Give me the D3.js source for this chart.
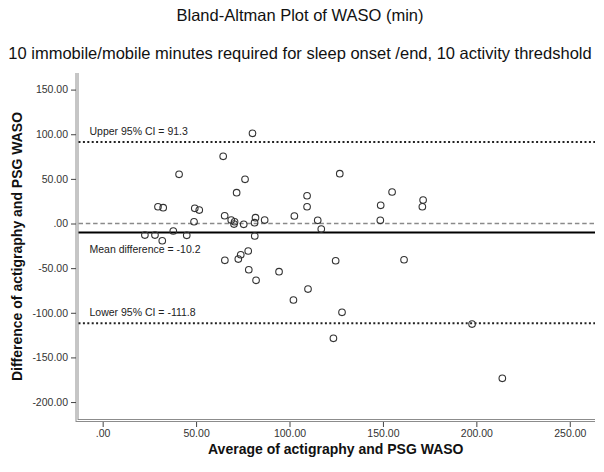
<!DOCTYPE html>
<html>
<head>
<meta charset="utf-8">
<script src="https://cdn.jsdelivr.net/npm/d3@7"></script>
<style>
  html, body { margin: 0; padding: 0; background: #fff; }
  svg { display: block; font-family: Arial, "Liberation Sans", sans-serif; }
</style>
</head>
<body>
<svg id="chart" width="604" height="472"></svg>
<script>
// ---- data ----
const avgValues = [80.2, 64.5, 40.9, 76.2, 71.7, 29.6, 32.4, 49.3, 51.7, 65.3,
                   48.9, 68.8, 70.6, 70.3, 75.5, 81.8, 81.3, 81.4, 22.6, 28.0,
                   31.9, 37.8, 45.0, 65.4, 72.6, 73.9, 77.9, 78.2, 82.1, 102.6,
                   109.4, 109.4, 115.1, 117.0, 126.9, 124.7, 94.4, 109.9, 102.1, 128.1,
                   148.8, 148.6, 154.9, 161.3, 171.5, 171.1, 86.7, 123.5, 197.7, 213.9];
const diffValues = [101.0, 75.3, 55.1, 49.5, 34.5, 18.8, 17.7, 17.0, 15.1, 8.7,
                    2.0, 3.9, 2.0, -0.6, -0.9, 6.5, 0.9, -14.0, -12.9, -12.9,
                    -19.3, -8.4, -13.2, -41.2, -39.8, -35.0, -30.8, -51.8, -63.6, 8.4,
                    31.1, 18.8, 3.6, -6.2, 55.8, -41.7, -54.0, -73.4, -85.7, -99.5,
                    20.4, 3.6, 35.3, -40.6, 26.3, 18.8, 3.9, -128.6, -112.6, -173.4];
const meanDiff = -10.2;
const upperCI = 91.3;
const lowerCI = -111.8;
const xTicks = [0, 50, 100, 150, 200, 250];
const xTickLabels = [".00", "50.00", "100.00", "150.00", "200.00", "250.00"];
const yTicks = [150, 100, 50, 0, -50, -100, -150, -200];
const yTickLabels = ["150.00", "100.00", "50.00", ".00", "-50.00", "-100.00", "-150.00", "-200.00"];
const titleText = "Bland-Altman Plot of WASO (min)";
const subtitleText = "10 immobile/mobile minutes required for sleep onset /end, 10 activity thredshold";
const xTitle = "Average of actigraphy and PSG WASO";
const yTitle = "Difference of actigraphy and PSG WASO";
const upperLabel = "Upper 95% CI = 91.3";
const meanLabel = "Mean difference = -10.2";
const lowerLabel = "Lower 95% CI = -111.8";

// ---- layout ----
const svg = d3.select("#chart");
const pL = 76.5, pR = 595, pT = 73, pB = 420;

const x = d3.scaleLinear().domain([-14.0, 263.5]).range([pL, pR]);
const y = d3.scaleLinear().domain([-220.1, 168.6]).range([pB, pT]);

svg.append("rect").attr("width", 604).attr("height", 472).attr("fill", "#fff");

// titles
svg.append("text").attr("x", 300).attr("y", 20.5).attr("text-anchor", "middle")
  .attr("font-size", "16.5px").attr("fill", "#111").text(titleText);
svg.append("text").attr("x", 300).attr("y", 59).attr("text-anchor", "middle")
  .attr("font-size", "16.5px").attr("fill", "#111").text(subtitleText);

// axis frame lines (double gray)
const frame = svg.append("g").attr("stroke", "#8c8c8c").attr("stroke-width", 1);
frame.append("line").attr("x1", pL - 0.5).attr("x2", pL - 0.5).attr("y1", pT).attr("y2", pB + 2);
frame.append("line").attr("x1", pL + 1.5).attr("x2", pL + 1.5).attr("y1", pT).attr("y2", pB);
frame.append("line").attr("x1", pL - 0.5).attr("x2", pR).attr("y1", pB + 1.5).attr("y2", pB + 1.5);
frame.append("line").attr("x1", pL + 1.5).attr("x2", pR).attr("y1", pB - 0.5).attr("y2", pB - 0.5);

// y axis
const yAxis = d3.axisLeft(y).tickValues(yTicks).tickSize(5).tickPadding(3)
  .tickFormat((d, i) => yTickLabels[i]);
const gy = svg.append("g").attr("transform", `translate(${pL - 0.5},0)`).call(yAxis);
gy.select(".domain").remove();
gy.selectAll(".tick line").attr("stroke", "#444");
gy.selectAll(".tick text").attr("font-size", "10.5px").attr("fill", "#333")
  .attr("font-family", "Arial, 'Liberation Sans', sans-serif");

// x axis
const xAxis = d3.axisBottom(x).tickValues(xTicks).tickSize(5).tickPadding(3)
  .tickFormat((d, i) => xTickLabels[i]);
const gx = svg.append("g").attr("transform", `translate(0,${pB + 2})`).call(xAxis);
gx.select(".domain").remove();
gx.selectAll(".tick line").attr("stroke", "#444");
gx.selectAll(".tick text").attr("font-size", "10.5px").attr("fill", "#333")
  .attr("font-family", "Arial, 'Liberation Sans', sans-serif");

// axis titles
svg.append("text").attr("x", (pL + pR) / 2).attr("y", 454).attr("text-anchor", "middle")
  .attr("font-size", "14px").attr("font-weight", "bold").attr("fill", "#111").text(xTitle);
svg.append("text").attr("transform", `translate(22,${(pT + pB) / 2}) rotate(-90)`)
  .attr("text-anchor", "middle").attr("font-size", "14px").attr("font-weight", "bold")
  .attr("fill", "#111").text(yTitle);

// reference lines
const refs = svg.append("g");
refs.append("line").attr("x1", pL + 2).attr("x2", pR).attr("y1", y(0)).attr("y2", y(0))
  .attr("stroke", "#8a8a8a").attr("stroke-width", 1.6).attr("stroke-dasharray", "4.5 2.8");
refs.append("line").attr("x1", pL + 2).attr("x2", pR).attr("y1", y(upperCI)).attr("y2", y(upperCI))
  .attr("stroke", "#222").attr("stroke-width", 2).attr("stroke-dasharray", "2 2.4");
refs.append("line").attr("x1", pL + 2).attr("x2", pR).attr("y1", y(lowerCI)).attr("y2", y(lowerCI))
  .attr("stroke", "#222").attr("stroke-width", 2).attr("stroke-dasharray", "2 2.4");
refs.append("line").attr("x1", pL + 2).attr("x2", pR).attr("y1", y(meanDiff)).attr("y2", y(meanDiff))
  .attr("stroke", "#000").attr("stroke-width", 2);

// reference labels
const lab = svg.append("g").attr("font-size", "10.5px").attr("fill", "#222");
lab.append("text").attr("x", 89.5).attr("y", y(upperCI) - 7).text(upperLabel);
lab.append("text").attr("x", 89.5).attr("y", y(meanDiff) + 20.5).text(meanLabel);
lab.append("text").attr("x", 89.5).attr("y", y(lowerCI) - 7.5).text(lowerLabel);

// points
svg.append("g").selectAll("circle")
  .data(avgValues.map((a, i) => [a, diffValues[i]]))
  .join("circle")
  .attr("cx", d => x(d[0]))
  .attr("cy", d => y(d[1]))
  .attr("r", 3.3)
  .attr("fill", "none")
  .attr("stroke", "#333")
  .attr("stroke-width", 1.1);
</script>
</body>
</html>
